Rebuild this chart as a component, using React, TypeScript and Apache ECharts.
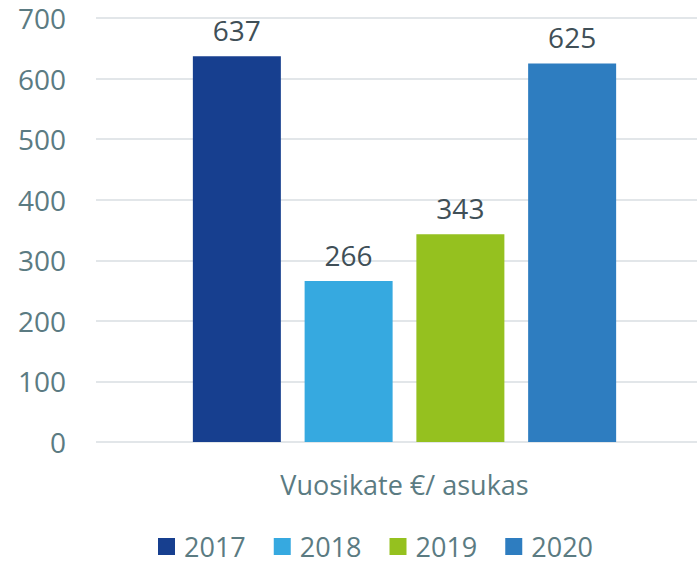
import React, { useEffect, useRef } from "react";
import * as echarts from "echarts";

const categories = ["Vuosikate €/ asukas"];
const years = ["2017", "2018", "2019", "2020"];
const values = [637, 266, 343, 625];
const colors = ["#173f8f", "#36a9e0", "#95c11f", "#2e7dc0"];
const yTicks = { min: 0, max: 700, interval: 100 };

const FONT = "'Open Sans', sans-serif";
const AXIS_COLOR = "#5b7b82";

export default function App() {
  const ref = useRef<HTMLDivElement>(null);
  useEffect(() => {
    if (!ref.current) return;
    const chart = echarts.init(ref.current, undefined, { renderer: "svg" });
    chart.setOption({
      animation: false,
      textStyle: { fontFamily: FONT },
      grid: [
        { left: 96, right: 0, top: 18, bottom: 119, containLabel: false },
        { left: 112, right: 0, top: 18, bottom: 119, containLabel: false },
      ],
      legend: {
        data: years,
        left: 158,
        top: 533,
        padding: 0,
        icon: "rect",
        itemWidth: 17,
        itemHeight: 17,
        itemGap: 28,
        textStyle: { fontSize: 27, color: AXIS_COLOR, fontFamily: FONT, padding: [0, 0, 0, 4] },
      },
      xAxis: [
        { type: "category", gridIndex: 0, data: categories, show: false },
        {
          type: "category",
          gridIndex: 1,
          data: categories,
          axisLine: { show: false },
          axisTick: { show: false },
          axisLabel: { margin: 29, fontSize: 27, color: AXIS_COLOR, fontFamily: FONT },
        },
      ],
      yAxis: [
        {
          type: "value",
          gridIndex: 0,
          min: yTicks.min,
          max: yTicks.max,
          interval: yTicks.interval,
          axisLine: { show: false },
          axisTick: { show: false },
          axisLabel: { margin: 30, fontSize: 28, color: AXIS_COLOR, fontFamily: FONT },
          splitLine: { lineStyle: { color: "#d9dee2", width: 1.5 } },
        },
        {
          type: "value",
          gridIndex: 1,
          min: yTicks.min,
          max: yTicks.max,
          interval: yTicks.interval,
          show: false,
          splitLine: { show: false },
        },
      ],
      series: years.map((y, i) => ({
        name: y,
        type: "bar",
        xAxisIndex: 1,
        yAxisIndex: 1,
        data: [values[i]],
        barWidth: 88,
        barGap: "27%",
        itemStyle: { color: colors[i] },
        label: {
          show: true,
          position: "top",
          distance: 12,
          fontSize: 28,
          color: "#404f57",
          fontFamily: FONT,
        },
      })),
    });
    return () => chart.dispose();
  }, []);
  return <div ref={ref} style={{ width: 697, height: 561, position: "absolute", left: 0, top: 0 }} />;
}
